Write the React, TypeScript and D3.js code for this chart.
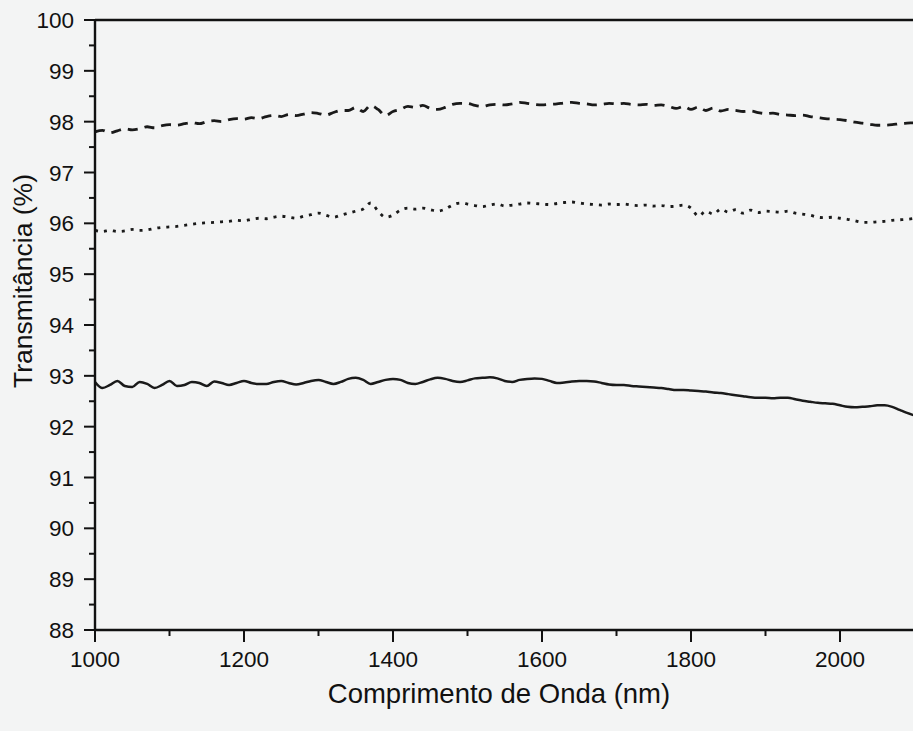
import React from "react";
import * as d3 from "d3";

const wavelengths: number[] = [
  1000, 1010, 1020, 1030, 1040, 1050, 1060, 1070, 1080, 1090,
  1100, 1110, 1120, 1130, 1140, 1150, 1160, 1170, 1180, 1190,
  1200, 1210, 1220, 1230, 1240, 1250, 1260, 1270, 1280, 1290,
  1300, 1310, 1320, 1330, 1340, 1350, 1360, 1370, 1380, 1390,
  1400, 1410, 1420, 1430, 1440, 1450, 1460, 1470, 1480, 1490,
  1500, 1510, 1520, 1530, 1540, 1550, 1560, 1570, 1580, 1590,
  1600, 1610, 1620, 1630, 1640, 1650, 1660, 1670, 1680, 1690,
  1700, 1710, 1720, 1730, 1740, 1750, 1760, 1770, 1780, 1790,
  1800, 1810, 1820, 1830, 1840, 1850, 1860, 1870, 1880, 1890,
  1900, 1910, 1920, 1930, 1940, 1950, 1960, 1970, 1980, 1990,
  2000, 2010, 2020, 2030, 2040, 2050, 2060, 2070, 2080, 2090,
  2100,
];

const dashedSeries: number[] = [
  97.80, 97.83, 97.78, 97.82, 97.86, 97.84, 97.86, 97.90, 97.88, 97.92,
  97.94, 97.93, 97.96, 97.98, 97.96, 98.00, 98.02, 98.00, 98.04, 98.06,
  98.05, 98.08, 98.06, 98.10, 98.12, 98.10, 98.14, 98.12, 98.15, 98.18,
  98.16, 98.13, 98.18, 98.22, 98.22, 98.28, 98.20, 98.32, 98.24, 98.12,
  98.20, 98.24, 98.30, 98.28, 98.32, 98.26, 98.24, 98.28, 98.34, 98.36,
  98.36, 98.32, 98.30, 98.33, 98.34, 98.33, 98.35, 98.38, 98.36, 98.34,
  98.33, 98.34, 98.35, 98.37, 98.38, 98.36, 98.35, 98.33, 98.34, 98.36,
  98.35, 98.36, 98.34, 98.33, 98.34, 98.32, 98.33, 98.30, 98.26, 98.30,
  98.24, 98.29, 98.22, 98.27, 98.21, 98.24, 98.22, 98.20, 98.21, 98.18,
  98.16, 98.17, 98.14, 98.13, 98.12, 98.13, 98.10, 98.08, 98.06, 98.05,
  98.04, 98.02, 97.99, 97.97, 97.95, 97.93, 97.93, 97.94, 97.96, 97.97,
  97.98,
];

const dottedSeries: number[] = [
  95.86, 95.84, 95.86, 95.84, 95.85, 95.88, 95.86, 95.87, 95.90, 95.92,
  95.93, 95.94, 95.96, 95.98, 96.00, 96.01, 96.02, 96.03, 96.04, 96.06,
  96.05, 96.08, 96.10, 96.09, 96.12, 96.14, 96.12, 96.10, 96.14, 96.17,
  96.20, 96.16, 96.12, 96.16, 96.20, 96.24, 96.28, 96.40, 96.24, 96.12,
  96.16, 96.26, 96.30, 96.28, 96.30, 96.27, 96.24, 96.28, 96.36, 96.40,
  96.38, 96.35, 96.33, 96.36, 96.38, 96.34, 96.36, 96.38, 96.40, 96.39,
  96.38, 96.37, 96.39, 96.41, 96.42, 96.40, 96.38, 96.37, 96.36, 96.38,
  96.37, 96.38, 96.36, 96.35, 96.36, 96.34, 96.35, 96.33, 96.34, 96.36,
  96.30, 96.14, 96.24, 96.18, 96.28, 96.22, 96.27, 96.20, 96.26, 96.21,
  96.24, 96.23, 96.22, 96.24, 96.20, 96.18, 96.16, 96.12, 96.11, 96.12,
  96.10, 96.08, 96.05, 96.02, 96.02, 96.03, 96.04, 96.06, 96.07, 96.08,
  96.10,
];

const solidSeries: number[] = [
  92.88, 92.76, 92.82, 92.90, 92.80, 92.78, 92.88, 92.84, 92.76, 92.82,
  92.90, 92.80, 92.82, 92.88, 92.86, 92.80, 92.89, 92.86, 92.82, 92.86,
  92.90, 92.86, 92.84, 92.84, 92.88, 92.90, 92.86, 92.83, 92.86, 92.90,
  92.92, 92.88, 92.84, 92.88, 92.94, 92.96, 92.92, 92.84, 92.88, 92.92,
  92.94, 92.92, 92.86, 92.84, 92.88, 92.93, 92.96, 92.94, 92.90, 92.88,
  92.91, 92.95, 92.96, 92.97, 92.95, 92.90, 92.88, 92.92, 92.94, 92.95,
  92.94, 92.90, 92.86, 92.87, 92.89, 92.90, 92.90, 92.89, 92.86, 92.83,
  92.82, 92.82, 92.80, 92.79, 92.78, 92.77, 92.76, 92.74, 92.72, 92.72,
  92.71, 92.70, 92.69, 92.67, 92.66, 92.64, 92.62, 92.60, 92.58, 92.57,
  92.57, 92.56, 92.57, 92.57, 92.54, 92.51, 92.49, 92.47, 92.46, 92.45,
  92.42, 92.39, 92.38, 92.39, 92.40, 92.42, 92.42, 92.39, 92.33, 92.27,
  92.22,
];

const yTickValues: number[] = [88, 89, 90, 91, 92, 93, 94, 95, 96, 97, 98, 99, 100];
const xTickValues: number[] = [1000, 1200, 1400, 1600, 1800, 2000];
const xMinorTicks: number[] = [1100, 1300, 1500, 1700, 1900, 2100];
const yMinorTicks: number[] = [88.5, 89.5, 90.5, 91.5, 92.5, 93.5, 94.5, 95.5, 96.5, 97.5, 98.5, 99.5];

const xLabel = "Comprimento de Onda (nm)";
const yLabel = "Transmitância (%)";

export default function App() {
  const W = 913;
  const H = 731;
  const left = 95;
  const top = 20;
  const bottom = 630;
  const x = d3.scaleLinear().domain([1000, 2000]).range([left, 840]);
  const xMax = 2115;
  const right = x(xMax);
  const y = d3.scaleLinear().domain([88, 100]).range([bottom, top]);

  const mk = (vals: number[]) =>
    d3
      .line<number>()
      .x((_, i) => x(wavelengths[i]))
      .y((d) => y(d))
      .curve(d3.curveMonotoneX)(vals) || "";

  const font = "'Liberation Sans', Arial, sans-serif";

  return (
    <svg
      width={W}
      height={H}
      style={{ position: "absolute", left: 0, top: 0, background: "#f3f4f4" }}
    >
      <rect x={0} y={0} width={W} height={H} fill="#f3f4f4" />
      <defs>
        <clipPath id="plotclip">
          <rect x={left} y={top} width={right - left} height={bottom - top} />
        </clipPath>
      </defs>
      <g clipPath="url(#plotclip)" fill="none" stroke="#1a1a1a">
        <path d={mk(dashedSeries)} strokeWidth={2.8} strokeDasharray="10,7" />
        <path d={mk(dottedSeries)} strokeWidth={2.8} strokeDasharray="3,6" />
        <path d={mk(solidSeries)} strokeWidth={2.5} />
      </g>
      {/* frame */}
      <line x1={left} y1={top} x2={right} y2={top} stroke="#111" strokeWidth={2.4} />
      <line x1={left} y1={bottom} x2={right} y2={bottom} stroke="#111" strokeWidth={2.4} />
      <line x1={left} y1={top} x2={left} y2={bottom} stroke="#111" strokeWidth={2.4} />
      {/* y ticks */}
      {yTickValues.map((v) => (
        <g key={"y" + v}>
          <line x1={left - 11} x2={left} y1={y(v)} y2={y(v)} stroke="#111" strokeWidth={2} />
          <text
            x={left - 21}
            y={y(v)}
            dy="0.36em"
            textAnchor="end"
            fontFamily={font}
            fontSize={22.5}
            fill="#111"
          >
            {v}
          </text>
        </g>
      ))}
      {yMinorTicks.map((v) => (
        <line key={"ym" + v} x1={left - 6} x2={left} y1={y(v)} y2={y(v)} stroke="#111" strokeWidth={2} />
      ))}
      {/* x ticks */}
      {xTickValues.map((v) => (
        <g key={"x" + v}>
          <line x1={x(v)} x2={x(v)} y1={bottom} y2={bottom + 12} stroke="#111" strokeWidth={2} />
          <text
            x={x(v)}
            y={bottom + 37}
            textAnchor="middle"
            fontFamily={font}
            fontSize={22.5}
            fill="#111"
          >
            {v}
          </text>
        </g>
      ))}
      {xMinorTicks.map((v) => (
        <line key={"xm" + v} x1={x(v)} x2={x(v)} y1={bottom} y2={bottom + 6} stroke="#111" strokeWidth={2} />
      ))}
      <text
        x={499}
        y={703}
        textAnchor="middle"
        fontFamily={font}
        fontSize={27.5}
        fill="#111"
      >
        {xLabel}
      </text>
      <text
        transform={`translate(32, 281) rotate(-90)`}
        textAnchor="middle"
        fontFamily={font}
        fontSize={26.5}
        fill="#111"
      >
        {yLabel}
      </text>
    </svg>
  );
}
